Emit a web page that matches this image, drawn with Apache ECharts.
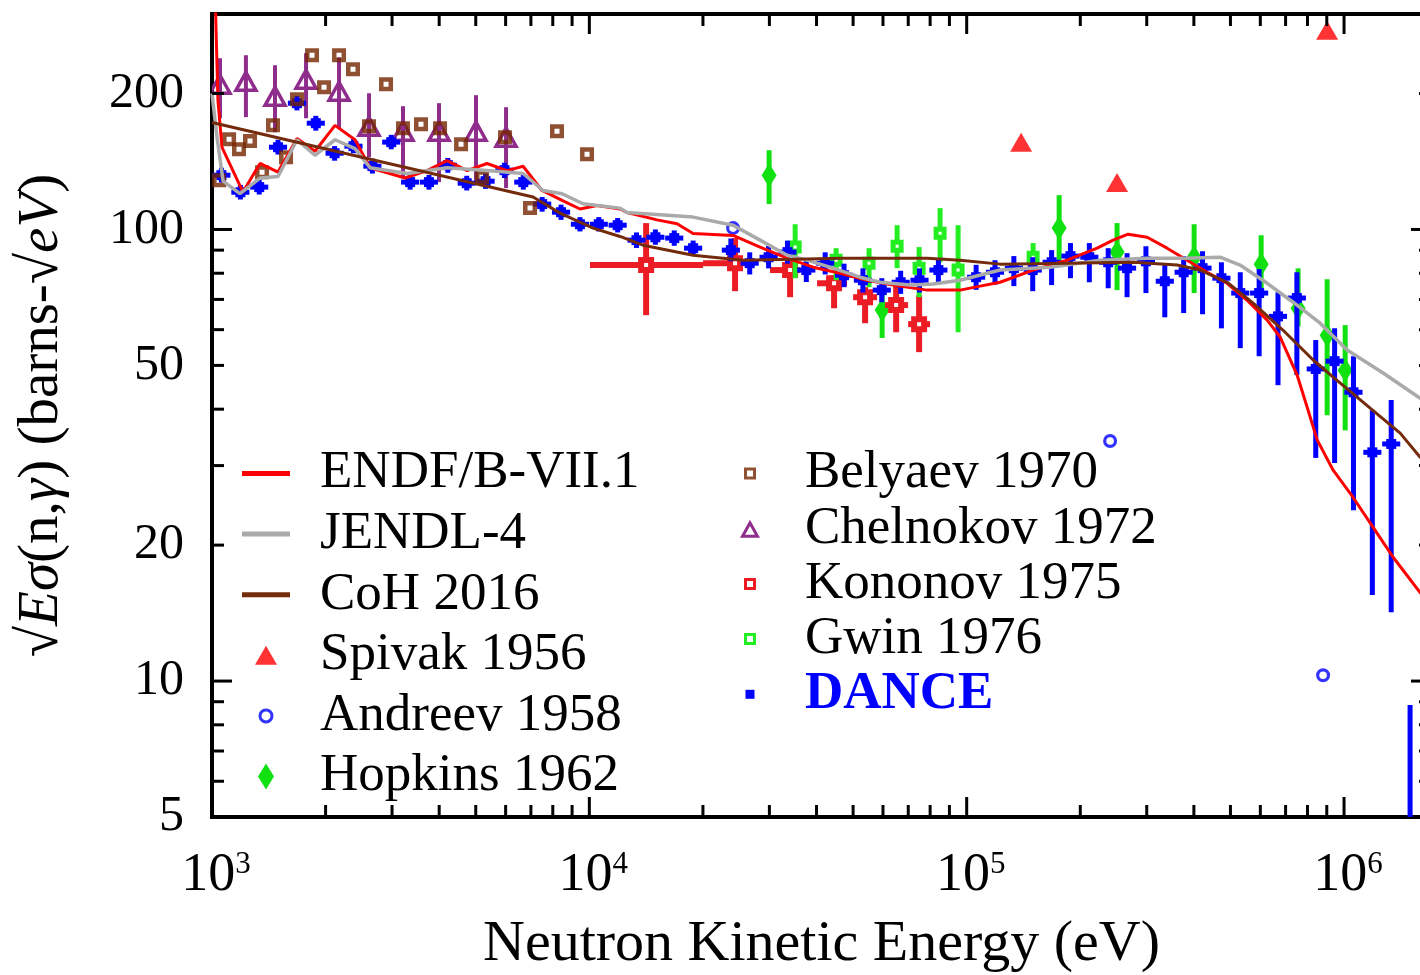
<!DOCTYPE html>
<html>
<head>
<meta charset="utf-8">
<script src="https://cdn.jsdelivr.net/npm/echarts@6/dist/echarts.min.js"></script>
<style>
html,body{margin:0;padding:0;background:#fff;}
#chart{width:1420px;height:975px;}
</style>
</head>
<body>
<div id="chart"></div>
<script>
// ---------------- data ----------------
const endf = [[1000,600],[1037,193],[1063,152],[1208,121],[1340,140],[1496,134],[1680,159],[1875,149],[2118,170],[2393,158],[2623,137],[3248,130],[3714,135],[4196,142],[4742,135],[5357,140],[6052,135],[6674,138],[7492,122],[8466,116],[9447,111],[10481,113],[12060,111],[12589,109],[15115,105],[17078,103],[18834,98],[24039,97],[28338,91.4],[33420,86.4],[39164,82.5],[46184,80.0],[54445,77.2],[63826,75.3],[78524,73.4],[96050,73.4],[108520,74.9],[122630,76.4],[149970,81.3],[184540,85.5],[221620,90.9],[244350,94.7],[267770,97.6],[300760,96.1],[339780,90.9],[383900,85.5],[433650,80.4],[489900,76.0],[553500,69.7],[625670,63.0],[676970,57.8],[751030,47.6],[798500,40.4],[848700,34.2],[935700,29.3],[1057100,25.5],[1194400,21.9],[1349500,18.8],[1591000,15.7],[1700000,14.7]];
const jendl = [[1000,200],[1031,160],[1070,128],[1186,120],[1340,130],[1496,131],[1680,158],[1875,146],[2118,158],[2393,151],[2623,137],[3288,133],[4196,137],[5357,135],[6674,133],[7540,122],[8466,120],[9622,114],[12060,111.5],[12589,109],[18834,106.5],[24039,102.2],[28338,94.7],[33420,87.7],[37757,85.5],[44250,82.1],[52168,78.4],[58944,76.4],[70795,75.3],[81453,75.7],[96050,77.2],[113260,80.0],[122630,81.3],[166340,82.5],[225740,85.5],[300760,86.4],[374650,86.4],[469470,86.8],[530330,83.4],[625670,76.0],[732930,69.0],[864500,62.0],[1019100,54.1],[1269500,48.1],[1591000,42.3],[1700000,41.0]];
const coh = [[1000,172.5],[7093,118],[8363,108.7],[10228,100.7],[12060,96.5],[13879,92.3],[18834,87.7],[25549,85.5],[34670,85.9],[47032,86.4],[63826,86.4],[78524,86.4],[96050,85.5],[122630,83.8],[184540,84.2],[276060,84.6],[361180,83.4],[415560,81.3],[489900,76.4],[574180,68.7],[689560,59.8],[828200,51.4],[935700,47.1],[1172800,40.2],[1408500,35.4],[1591000,31.3],[1700000,30.3]];

const spivE = [139400, 250300, 902000];
const spivY = [156, 127, 276];

const andE = [24039, 239900, 880000];
const andY = [100.7, 34.0, 10.3];

const hopE  = [29950, 59700, 175800, 250300, 400600, 603000, 755400, 902000, 1007000];
const hopY  = [131.9, 66.3, 100.7, 89.1, 86.8, 83.8, 66.9, 58.3, 48.8];
const hopLo = [113.8, 57.5, 82.5, 73.4, 72.3, 72.3, 61.0, 38.8, 35.9];
const hopHi = [149.8, 76.4, 119.1, 103.3, 102.7, 97.1, 82.0, 77.6, 61.4];

const belE = [1044,1110,1179,1261,1357,1451,1571,1680,1841,1981,2171,2364,2607,2892,3208,3580,4021,4571,5195,5978,6963,8209,9860];
const belY = [128.5,158.5,150.6,156.9,133.9,170.2,144.5,194.3,243.1,206.5,243.1,226.3,169.3,209.7,167.6,171.0,167.6,154.5,130.5,160.1,111.5,165.1,146.8];

const chelE  = [1050, 1230, 1469, 1775, 2171, 2607, 3208, 3996, 5008, 6015];
const chelY  = [208.6, 211.8, 196.2, 214.0, 201.3, 168.4, 164.2, 164.2, 164.2, 159.3];
const chelLo = [176.3, 177.3, 164.2, 176.3, 167.6, 144.5, 129.9, 127.3, 127.3, 123.5];
const chelHi = [239.4, 243.1, 231.0, 245.6, 240.6, 200.3, 187.5, 190.4, 198.3, 186.5];

const konE   = [14140, 24330, 34040, 44520, 53800, 65020, 74800];
const konY   = [83.4, 84.2, 81.3, 76.0, 70.8, 68.0, 61.7];
const konLo  = [64.6, 73.0, 70.8, 66.9, 62.0, 59.2, 53.5];
const konHi  = [103.3, 95.7, 85.5, 79.2, 74.5, 75.3, 71.5];
const konXLo = [10040, 20010, 30120, 40130, 50000, 60770, 69940];
const konXHi = [20010, 27000, 36180, 48190, 57880, 69940, 79980];

const gwinE  = [35110, 45080, 55110, 65400, 74800, 85020, 94890, 149970];
const gwinY  = [91.4, 85.5, 84.2, 91.8, 82.1, 98.1, 81.3, 86.8];
const gwinLo = [78.0, 77.2, 74.5, 82.1, 70.8, 84.6, 59.2, 81.3];
const gwinHi = [102.7, 90.9, 90.9, 102.2, 91.4, 111.5, 102.2, 93.3];

const danceE = [1059,1189,1334,1496,1679,1884,2113,2371,2661,2985,3350,3758,4217,4732,5309,5957,6683,7499,8414,9441,10593,11885,13335,14962,16788,18836,23714,26607,29854,33497,37584,42170,47315,53088,59566,66834,74989,84140,105925,118850,133352,149624,167880,188365,211349,237137,266073,298538,334965,375837,421696,473151,530884,595662,668344,749894,841395,944061,1059254,1188502,1333521,1496236];
const danceY = [131.9,120.9,124.1,152.1,190.4,171.9,147.5,152.9,138.1,156.1,127.3,127.3,138.8,126.6,127.9,135.3,127.3,113.8,109.2,102.7,102.7,102.2,94.7,96.1,95.7,90.9,90.0,84.2,86.8,89.1,81.3,84.2,79.2,77.2,73.4,76.4,77.2,81.3,78.4,80.4,82.1,81.3,84.6,87.3,86.8,84.6,82.1,85.0,76.8,80.4,82.1,78.0,72.3,72.3,64.2,70.5,49.1,51.1,43.6,32.1,33.5,3.5];
const danceLo = [127,116.5,119.5,146.5,183.5,165.5,142,147.5,133,150.5,122.5,122.5,133.5,122,123,130,122.5,109.5,105,99,99,98.5,91,92.5,92,87.5,85,79.5,82,84,76.5,79.5,74.5,72.5,69,72,72.5,76.5,73.5,75.5,74.9,73.0,75.3,78.0,76.4,74.1,70.8,72.3,63.9,65.3,64.9,60.4,54.6,52.4,45.2,47.6,31.2,30.4,23.9,15.5,14.2,1.5];
const danceHi = [137,125.5,129,158,197.5,178.5,153,158.5,143.5,162,132,132,144,131.5,133,140.5,132,118,113.5,106.5,106.5,106,98.5,100,99.5,94.5,95.5,89,92,94.5,86,89,84,82,78,81,82,86,83.5,85.5,87.3,86.8,90.0,93.3,93.3,90.9,88.6,91.8,84.2,87.3,89.5,84.6,80.4,81.7,72.6,80.4,56.9,60.4,52.4,39.8,41.9,8.85];
const danceHalfBinDecades = 0.024;

const xMajorTicks = [1e4, 1e5, 1e6];
const xMinorTicks = [2e3,3e3,4e3,5e3,6e3,7e3,8e3,9e3,2e4,3e4,4e4,5e4,6e4,7e4,8e4,9e4,2e5,3e5,4e5,5e5,6e5,7e5,8e5,9e5];
const yMajorTicks = [10, 100];
const yMinorTicks = [6,7,8,9,20,30,40,50,60,70,80,90,200];
const xTickLabels = [1e3, 1e4, 1e5, 1e6];
const yTickLabels = [5, 10, 20, 50, 100, 200];

// ---------------- styling ----------------
const FONT = '"Liberation Serif", "DejaVu Serif", serif';
const C = {
  endf: '#ff0000', jendl: '#aaaaaa', coh: '#742b0c',
  spiv: '#ff0000', and: '#0000ff', hop: '#11e011', bel: '#742600',
  chel: '#8e2d8c', kon: '#ec1c24', gwin: '#22ee22', dance: '#0000ff'
};
const X_MIN = 1000, X_MAX = 1.7e6, Y_MIN = 5, Y_MAX = 300;

const chart = echarts.init(document.getElementById('chart'), null, {renderer: 'canvas'});

function errRender(cfg) {
  return function (params, api) {
    const e = api.value(0), v = api.value(1);
    const p = api.coord([e, v]);
    const lo = api.coord([e, api.value(2)]);
    const hi = api.coord([e, api.value(3)]);
    const kids = [];
    kids.push({type: 'line', shape: {x1: p[0], y1: lo[1], x2: p[0], y2: hi[1]},
      style: {stroke: cfg.color, lineWidth: cfg.bar}});
    if (cfg.xerr) {
      const xl = api.coord([api.value(4), v]);
      const xh = api.coord([api.value(5), v]);
      kids.push({type: 'line', shape: {x1: xl[0], y1: p[1], x2: xh[0], y2: p[1]},
        style: {stroke: cfg.color, lineWidth: cfg.bar}});
    }
    kids.push(cfg.marker(p));
    return {type: 'group', children: kids};
  };
}

const B = 'M0 0 M73 26 ';   // left legend icon box
const R = 'M0 0 M75 26 ';   // right legend icon box
const ICON = {
  line: 'path://' + B + 'M0 10.5 H48 V15.5 H0 Z',
  spiv: 'path://' + B + 'M13 22.5 L35 22.5 L24 3.5 Z',
  and: 'path://' + B + 'M31.5 13 A7.5 7.5 0 1 1 16.5 13 A7.5 7.5 0 1 1 31.5 13 Z M28.5 13 A4.5 4.5 0 1 0 19.5 13 A4.5 4.5 0 1 0 28.5 13 Z',
  hop: 'path://' + B + 'M24 0 L32 13 L24 26 L16 13 Z',
  sq: 'path://' + R + 'M19 7 H31 V19 H19 Z M22 10 V16 H28 V10 Z',
  tri: 'path://' + R + 'M15 22 L25 4 L35 22 Z M20.1 19 L29.9 19 L25 10.2 Z',
  dot: 'path://' + R + 'M20.5 8.5 H29.5 V17.5 H20.5 Z'
};

const series = [
  {name: 'ENDF/B-VII.1', type: 'line', data: endf, symbol: 'none', clip: true,
   lineStyle: {color: C.endf, width: 3}, itemStyle: {color: C.endf}},
  {name: 'JENDL-4', type: 'line', data: jendl, symbol: 'none', clip: true,
   lineStyle: {color: C.jendl, width: 3.5}, itemStyle: {color: C.jendl}},
  {name: 'CoH 2016', type: 'line', data: coh, symbol: 'none', clip: true,
   lineStyle: {color: C.coh, width: 3}, itemStyle: {color: C.coh}},
  {name: 'Belyaev 1970', type: 'scatter', data: belE.map((e, i) => [e, belY[i]]),
   symbol: 'path://M0 0 H14 V14 H0 Z M4.5 4.5 V9.5 H9.5 V4.5 Z', symbolSize: 14,
   itemStyle: {color: C.bel}},
  {name: 'Chelnokov 1972', type: 'custom', clip: true, itemStyle: {color: C.chel},
   data: chelE.map((e, i) => [e, chelY[i], chelLo[i], chelHi[i]]),
   renderItem: errRender({color: C.chel, bar: 4, marker: p => ({type: 'polygon',
     shape: {points: [[p[0] - 10, p[1] + 8], [p[0] + 10, p[1] + 8], [p[0], p[1] - 10]]},
     style: {fill: 'none', stroke: C.chel, lineWidth: 3.5}})})},
  {name: 'Spivak 1956', type: 'scatter', data: spivE.map((e, i) => [e, spivY[i]]),
   symbol: 'triangle', symbolSize: [22, 19], itemStyle: {color: C.spiv}},
  {name: 'Andreev 1958', type: 'scatter', data: andE.map((e, i) => [e, andY[i]]),
   symbol: 'path://M14 7 A7 7 0 1 1 0 7 A7 7 0 1 1 14 7 Z M10.8 7 A3.8 3.8 0 1 0 3.2 7 A3.8 3.8 0 1 0 10.8 7 Z',
   symbolSize: 14, itemStyle: {color: C.and}},
  {name: 'Hopkins 1962', type: 'custom', clip: true, itemStyle: {color: C.hop},
   data: hopE.map((e, i) => [e, hopY[i], hopLo[i], hopHi[i]]),
   renderItem: errRender({color: C.hop, bar: 5, marker: p => ({type: 'polygon',
     shape: {points: [[p[0], p[1] - 12], [p[0] + 7.5, p[1]], [p[0], p[1] + 12], [p[0] - 7.5, p[1]]]},
     style: {fill: C.hop}})})},
  {name: 'Kononov 1975', type: 'custom', clip: true, itemStyle: {color: C.kon},
   data: konE.map((e, i) => [e, konY[i], konLo[i], konHi[i], konXLo[i], konXHi[i]]),
   renderItem: errRender({color: C.kon, bar: 6, xerr: true, marker: p => ({type: 'rect',
     shape: {x: p[0] - 5, y: p[1] - 5, width: 10, height: 10},
     style: {fill: '#fff', stroke: C.kon, lineWidth: 6}})})},
  {name: 'Gwin 1976', type: 'custom', clip: true, itemStyle: {color: C.gwin},
   data: gwinE.map((e, i) => [e, gwinY[i], gwinLo[i], gwinHi[i]]),
   renderItem: errRender({color: C.gwin, bar: 5, marker: p => ({type: 'rect',
     shape: {x: p[0] - 4, y: p[1] - 4, width: 8, height: 8},
     style: {fill: '#fff', stroke: C.gwin, lineWidth: 5}})})},
  {name: 'DANCE', type: 'custom', clip: true, itemStyle: {color: C.dance},
   data: danceE.map((e, i) => [e, danceY[i], danceLo[i], danceHi[i],
     e / Math.pow(10, danceHalfBinDecades), e * Math.pow(10, danceHalfBinDecades)]),
   renderItem: errRender({color: C.dance, bar: 5, xerr: true, marker: p => ({type: 'rect',
     shape: {x: p[0] - 5, y: p[1] - 5, width: 10, height: 10},
     style: {fill: C.dance}})})},
  // ---- frame ticks (inside, all four sides) ----
  {name: '_xticks', type: 'custom', silent: true, z: 5,
   data: xMajorTicks.map(v => [v, 100, 1]).concat(xMinorTicks.map(v => [v, 100, 0])),
   renderItem: function (params, api) {
     const cs = params.coordSys;
     const x = api.coord([api.value(0), 100])[0];
     const len = api.value(2) ? 20 : 12;
     const b = cs.y + cs.height;
     return {type: 'group', children: [
       {type: 'line', shape: {x1: x, y1: b, x2: x, y2: b - len}, style: {stroke: '#000', lineWidth: 3}},
       {type: 'line', shape: {x1: x, y1: cs.y, x2: x, y2: cs.y + len}, style: {stroke: '#000', lineWidth: 3}}
     ]};
   }},
  {name: '_yticks', type: 'custom', silent: true, z: 5,
   data: yMajorTicks.map(v => [2000, v, 1]).concat(yMinorTicks.map(v => [2000, v, 0])),
   renderItem: function (params, api) {
     const cs = params.coordSys;
     const y = api.coord([2000, api.value(1)])[1];
     const len = api.value(2) ? 20 : 12;
     const r = cs.x + cs.width;
     return {type: 'group', children: [
       {type: 'line', shape: {x1: cs.x, y1: y, x2: cs.x + len, y2: y}, style: {stroke: '#000', lineWidth: 3}},
       {type: 'line', shape: {x1: r, y1: y, x2: r - len, y2: y}, style: {stroke: '#000', lineWidth: 3}}
     ]};
   }},
  {name: '_ylabels', type: 'custom', silent: true, z: 5,
   data: yTickLabels.map(v => [2000, v]),
   renderItem: function (params, api) {
     const cs = params.coordSys;
     const v = api.value(1);
     const y = api.coord([2000, v])[1];
     return {type: 'text', x: cs.x - 28, y: y,
       style: {text: String(v), fontFamily: FONT, fontSize: 50, fill: '#000',
         align: 'right', verticalAlign: 'middle'}};
   }},
  {name: '_xlabels', type: 'custom', silent: true, z: 5,
   data: xTickLabels.map(v => [v, 100]),
   renderItem: function (params, api) {
     const cs = params.coordSys;
     const v = api.value(0);
     const x = api.coord([v, 100])[0];
     const ex = Math.round(Math.log10(v));
     return {type: 'text', x: x + 4, y: cs.y + cs.height + 32,
       style: {text: '{b|10}{s|' + ex + '}', align: 'center', verticalAlign: 'top', fill: '#000',
         rich: {
           b: {fontFamily: FONT, fontSize: 54, lineHeight: 54, verticalAlign: 'bottom', fill: '#000'},
           s: {fontFamily: FONT, fontSize: 31, lineHeight: 31, verticalAlign: 'top', fill: '#000'}
         }}};
   }}
];

const legendText = {fontFamily: FONT, fontSize: 53, color: '#000', lineHeight: 52};
const option = {
  animation: false,
  backgroundColor: '#fff',
  grid: {left: 212, top: 14, width: 1219, height: 803, show: true,
    borderColor: '#000', borderWidth: 4, backgroundColor: 'transparent',
    containLabel: false, outerBoundsMode: 'none'},
  xAxis: {type: 'log', logBase: 10, min: X_MIN, max: X_MAX,
    axisLine: {show: false}, axisTick: {show: false}, axisLabel: {show: false}, splitLine: {show: false},
    name: 'Neutron Kinetic Energy (eV)', nameLocation: 'middle', nameGap: 99,
    nameTextStyle: {fontFamily: FONT, fontSize: 58, color: '#000'}},
  yAxis: {type: 'log', logBase: 10, min: Y_MIN, max: Y_MAX,
    axisLine: {show: false}, axisTick: {show: false}, axisLabel: {show: false}, splitLine: {show: false},
    name: '{a|\u221A}{i|E\u03C3}{a|(n,}{i|\u03B3}{a|) (barns-\u221A}{i|eV}{a|)}',
    nameLocation: 'middle', nameGap: 141, nameRotate: 90,
    nameTextStyle: {fontFamily: FONT, fontSize: 57, color: '#000',
      rich: {a: {fontFamily: FONT, fontSize: 57, color: '#000'},
             i: {fontFamily: FONT, fontSize: 57, fontStyle: 'italic', color: '#000'}}}},
  legend: [
    {orient: 'vertical', left: 242, top: 447, padding: 0, itemWidth: 73, itemHeight: 26, itemGap: 7.6,
     selectedMode: false, textStyle: legendText, itemStyle: {borderWidth: 0},
     data: [
       {name: 'ENDF/B-VII.1', icon: ICON.line},
       {name: 'JENDL-4', icon: ICON.line},
       {name: 'CoH 2016', icon: ICON.line},
       {name: 'Spivak 1956', icon: ICON.spiv},
       {name: 'Andreev 1958', icon: ICON.and},
       {name: 'Hopkins 1962', icon: ICON.hop}
     ]},
    {orient: 'vertical', left: 725, top: 447, padding: 0, itemWidth: 75, itemHeight: 26, itemGap: 2.2,
     selectedMode: false, textStyle: legendText, itemStyle: {borderWidth: 0},
     data: [
       {name: 'Belyaev 1970', icon: ICON.sq},
       {name: 'Chelnokov 1972', icon: ICON.tri},
       {name: 'Kononov 1975', icon: ICON.sq},
       {name: 'Gwin 1976', icon: ICON.sq},
       {name: 'DANCE', icon: ICON.dot, textStyle: {color: '#0000ff', fontWeight: 'bold'}}
     ]}
  ],
  series: series
};
chart.setOption(option);
</script>
</body>
</html>
